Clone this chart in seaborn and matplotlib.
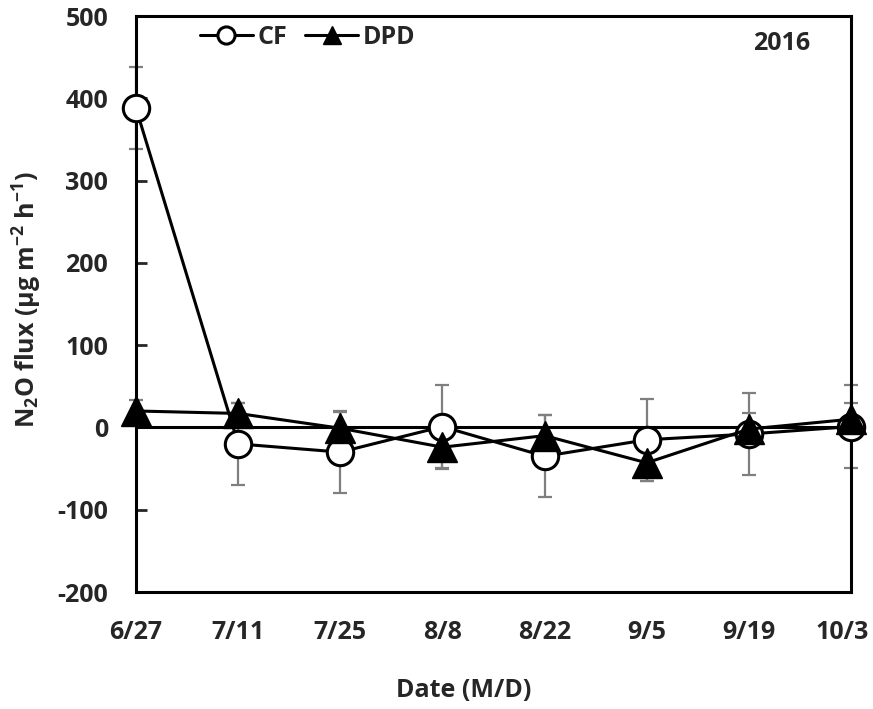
import matplotlib
matplotlib.use("Agg")
import matplotlib.pyplot as plt
import matplotlib.transforms as mtransforms
import seaborn as sns
import pandas as pd
import numpy as np

dates = ["2016-06-27", "2016-07-11", "2016-07-25", "2016-08-08",
         "2016-08-22", "2016-09-05", "2016-09-19", "2016-10-03"]
tick_labels = ["6/27", "7/11", "7/25", "8/8", "8/22", "9/5", "9/19", "10/3"]
cf_mean = [388, -20, -30, 1, -35, -15, -8, 1]
cf_err = [50, 50, 50, 50, 50, 50, 50, 50]
dpd_mean = [20, 17, -1, -24, -10, -43, -2, 10]
dpd_err = [13, 13, 20, 26, 25, 22, 20, 20]

FONT = "Open Sans"
FS = 18
sns.set_theme(style="white")
plt.rcParams["font.family"] = [FONT, "DejaVu Sans"]
plt.rcParams["font.weight"] = "bold"
plt.rcParams["axes.unicode_minus"] = False
plt.rcParams["mathtext.fontset"] = "custom"
plt.rcParams["mathtext.rm"] = FONT + ":bold"
plt.rcParams["mathtext.bf"] = FONT + ":bold"
plt.rcParams["mathtext.default"] = "rm"

x = pd.to_datetime(dates)
df = pd.DataFrame({
    "date": list(x) * 2,
    "flux": cf_mean + dpd_mean,
    "err": cf_err + dpd_err,
    "trt": ["CF"] * len(x) + ["DPD"] * len(x),
})

W, H = 873, 709
fig = plt.figure(figsize=(W / 100, H / 100), dpi=100)
ax = fig.add_axes([136 / W, 1 - 592 / H, (851 - 136) / W, (592 - 16) / H])

ax.axhline(0, color="black", lw=2.2, zorder=1)

for t in ["CF", "DPD"]:
    sub = df[df.trt == t]
    eb = ax.errorbar(sub["date"], sub["flux"], yerr=sub["err"], fmt="none",
                     ecolor="#7f7f7f", elinewidth=1.6, capsize=5, capthick=1.6, zorder=2)
    for art in list(eb.lines[1]) + list(eb.lines[2]):
        art.set_clip_on(False)

sns.lineplot(data=df[df.trt == "CF"], x="date", y="flux", ax=ax, color="black",
             lw=2.2, marker="o", markersize=19, markerfacecolor="white",
             markeredgecolor="black", markeredgewidth=2.2, label="CF", zorder=3,
             clip_on=False)
sns.lineplot(data=df[df.trt == "DPD"], x="date", y="flux", ax=ax, color="black",
             lw=2.2, marker="^", markersize=21, markerfacecolor="black",
             markeredgecolor="black", markeredgewidth=1, label="DPD", zorder=4,
             clip_on=False)

ax.set_xlim(x[0], x[-1])
ax.set_ylim(-200, 500)
ax.set_yticks(np.arange(-200, 501, 100))
ax.set_xticks(x)
ax.set_xticklabels(tick_labels)
ax.tick_params(axis="y", direction="in", length=8, width=2, left=True, labelsize=FS, pad=20)
ax.tick_params(axis="x", length=0, labelsize=FS, pad=20)
for lab in ax.get_xticklabels() + ax.get_yticklabels():
    lab.set_fontweight("bold")
# keep the last date label inside the canvas
last = ax.get_xticklabels()[-1]
last.set_transform(last.get_transform() +
                   mtransforms.ScaledTranslation(-6 / 72, 0, fig.dpi_scale_trans))
for s in ax.spines.values():
    s.set_linewidth(2.2)
    s.set_color("black")

ax.set_xlabel("Date (M/D)", fontsize=FS, fontweight="bold")
ax.xaxis.set_label_coords((464 - 136) / 715, -(678 - 592) / 576)
ax.set_ylabel(r"N$_{2}$O flux (μg m$^{-2}$ h$^{-1}$)", fontsize=FS, fontweight="bold")
ax.yaxis.set_label_coords(-(136 - 44) / 715, (592 - 300) / 576)

ax.text((810 - 136) / 715, (592 - 43) / 576, "2016", transform=ax.transAxes,
        ha="right", va="center", fontsize=FS, fontweight="bold")

leg = ax.legend(loc="center left", bbox_to_anchor=(200 / W, 1 - 37 / H),
                bbox_transform=fig.transFigure, ncol=2, frameon=False,
                borderpad=0, borderaxespad=0,
                markerscale=0.65, handlelength=2.1, columnspacing=0.72,
                handletextpad=0.2, prop={"size": FS, "weight": "bold"})

fig.savefig("out.png", dpi=100)
